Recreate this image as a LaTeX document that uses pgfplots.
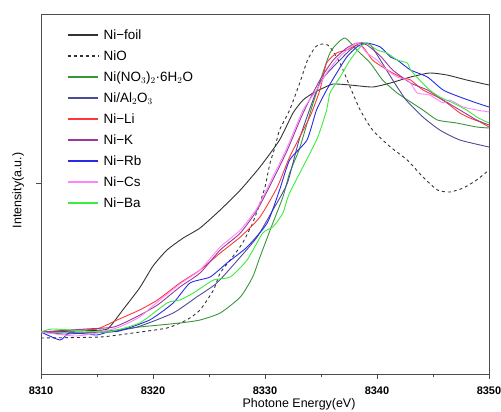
\documentclass[border=0pt]{standalone}
\usepackage{pgfplots}
\pgfplotsset{compat=1.18}
\usepackage{fontspec}
\setmainfont{Liberation Sans}
\definecolor{colFoil}{RGB}{50,50,50}
\definecolor{colNiO}{RGB}{50,50,50}
\definecolor{colNit}{RGB}{55,150,55}
\definecolor{colAl}{RGB}{75,75,150}
\definecolor{colLi}{RGB}{255,55,55}
\definecolor{colK}{RGB}{155,55,155}
\definecolor{colRb}{RGB}{40,40,230}
\definecolor{colCs}{RGB}{255,130,255}
\definecolor{colBa}{RGB}{60,235,60}
\begin{document}
\begin{tikzpicture}
\begin{axis}[
  name=ax, at={(0,0)}, anchor=south west,
  scale only axis, width=448bp, height=360bp,
  xmin=8310, xmax=8350, ymin=0, ymax=360,
  xtick={8310,8320,8330,8340,8350},
  minor xtick={8315,8325,8335,8345},
  ytick={191}, yticklabels={},
  xtick pos=bottom, ytick pos=left,
  tick align=outside,
  major tick length=5bp, minor tick length=3bp,
  axis line style={black!70, line width=0.8pt},
  every tick/.style={black!70, line width=0.8pt},
  /pgf/number format/assume math mode=true,
  /pgf/number format/set thousands separator={},
  xticklabel style={font=\fontsize{11}{13}\selectfont\bfseries, yshift=-4bp},
  xlabel={Photone Energy(eV)},
  ylabel={Intensity(a.u.)},
  xlabel style={font=\fontsize{12.5}{14}\selectfont, at={(axis description cs:0.576,-0.083)}, anchor=center},
  ylabel style={font=\fontsize{12.5}{14}\selectfont, at={(axis description cs:-0.051,0.51)}, anchor=center},
  legend cell align=left,
  legend image code/.code={\draw[#1, line width=1.5bp] (0bp,0bp) -- (30bp,0bp);},
  legend style={draw=none, fill=none, at={(axis description cs:0.058,0.961)}, anchor=north west,
    font=\fontsize{13.5}{16}\selectfont, inner sep=0pt, row sep=7bp, column sep=4bp,
    nodes={inner sep=1bp, text height=10bp, text depth=2bp}},
  every axis plot/.append style={line width=0.9pt, smooth, tension=0.35},
]
% Ni-foil
\addplot[colFoil] coordinates {
(8310,42) (8315.5,44) (8316.2,48) (8317.3,64) (8318.8,86) (8320.0,108) (8321.25,124) (8322.7,136)
(8324.2,146) (8326.0,164) (8327.8,184) (8329.55,207) (8331.3,234) (8332.5,261) (8333.4,274)
(8334.3,281) (8335.2,286) (8336.1,290) (8337.6,289) (8339.6,287) (8341.2,291) (8343.0,297)
(8344.7,301) (8346.25,299) (8348.0,294) (8350,289)};
\addlegendentry{Ni−foil}
% NiO
\addplot[colNiO, dashed] coordinates {
(8310,36) (8315.3,37) (8318.2,41) (8321.25,46) (8323.0,54) (8324.2,64) (8325.4,84) (8326.0,101)
(8327.1,117) (8328.0,131) (8328.9,151) (8329.55,171) (8330.0,187) (8330.45,211) (8330.9,227)
(8331.3,244) (8332.2,264) (8333.1,291) (8333.8,314) (8334.5,327) (8335.1,330) (8335.6,329)
(8335.8,327) (8336.7,311) (8337.6,287) (8338.5,264) (8339.6,244) (8341.2,227) (8342.7,214)
(8344.1,197) (8345.4,184) (8346.5,182) (8347.7,186) (8348.9,194) (8350,204)};
\addlegendentry{NiO}
% Ni(NO3)2 6H2O
\addplot[colNit] coordinates {
(8310,42) (8315,42) (8318.8,47) (8322.4,51) (8324.2,54) (8326,61) (8327.8,77) (8328.9,97)
(8329.55,117) (8330.7,151) (8331.6,177) (8332.2,201) (8333.1,226) (8334.3,271) (8335.8,321)
(8337.1,336) (8338.2,324) (8339.4,311) (8340.5,294) (8341.8,281) (8343.0,272) (8344.1,264)
(8345.4,254) (8347.1,251) (8348.9,247) (8350,246)};
\addlegendentry{Ni(NO$_3$)$_2$·6H$_2$O}
% Ni/Al2O3
\addplot[colAl] coordinates {
(8310,42) (8312,40) (8314,41) (8316,42) (8318.6,47) (8321.8,61) (8323.9,77) (8325.7,91)
(8327.8,117) (8329.3,137) (8330.7,164) (8332.0,191) (8333.1,236) (8334.9,291) (8336.7,314)
(8337.6,324) (8338.5,331) (8339.4,329) (8340.3,314) (8341.4,294) (8342.6,274) (8344.1,257)
(8345.6,244) (8347.4,234) (8350,227)};
\addlegendentry{Ni/Al$_2$O$_3$}
% Ni-Li
\addplot[colLi] coordinates {
(8310,42) (8313,44) (8315,45) (8316.8,54) (8318.8,64) (8320.4,74) (8322.4,91) (8324.2,104)
(8326.0,121) (8327.8,137) (8329.55,157) (8331.1,187) (8332.2,217) (8334.0,257) (8334.9,284)
(8335.5,311) (8336.4,321) (8337.3,324) (8338.2,329) (8338.75,327) (8339.6,314) (8340.5,307)
(8341.4,301) (8342.3,296) (8343.0,294) (8344.1,284) (8345.4,277) (8346.25,271) (8347.4,261)
(8348.3,256) (8349.2,252) (8350,247)};
\addlegendentry{Ni−Li}
% Ni-K
\addplot[colK] coordinates {
(8310,42) (8314,45) (8316.5,47) (8318.5,57) (8320.4,69) (8322.4,87) (8324.2,101) (8326.0,124)
(8327.8,141) (8329.3,164) (8330.7,194) (8332.0,224) (8333.4,261) (8334.9,294) (8336.1,314)
(8337.3,326) (8338.2,331) (8339.1,329) (8340.3,318) (8341.4,304) (8343.0,291) (8344.5,284)
(8345.9,274) (8347.4,264) (8348.9,254) (8350,249)};
\addlegendentry{Ni−K}
% Ni-Rb
\addplot[colRb] coordinates {
(8310,42) (8311.7,34) (8312.5,41) (8314,40) (8315,39) (8316,42) (8317,43) (8319.7,54)
(8321.8,71) (8323.3,91) (8325.1,97) (8326.6,111) (8328.4,127) (8330.2,151) (8331.3,184)
(8332.2,214) (8333.75,234) (8334.6,264) (8335.5,284) (8336.4,301) (8337.3,317) (8338.2,327)
(8339.1,331) (8340.3,327) (8341.2,317) (8341.8,314) (8343.0,304) (8344.5,297) (8345.9,284)
(8347.4,277) (8348.9,271) (8350,267)};
\addlegendentry{Ni−Rb}
% Ni-Cs
\addplot[colCs] coordinates {
(8310,42) (8313,38) (8315,41) (8317,47) (8318.8,57) (8320.4,72) (8322.4,90) (8324.2,104)
(8326.0,127) (8327.8,144) (8329.3,166) (8330.7,197) (8332.0,227) (8333.4,264) (8334.6,284)
(8335.5,301) (8336.4,314) (8337.5,326) (8338.3,331) (8339.1,321) (8340.0,314) (8340.9,304)
(8341.8,297) (8342.7,294) (8343.0,291) (8343.6,281) (8344.7,279) (8345.9,271) (8346.5,274)
(8347.7,267) (8348.9,264) (8350,262)};
\addlegendentry{Ni−Cs}
% Ni-Ba
\addplot[colBa] coordinates {
(8310,42) (8311,45) (8314,43) (8316,42) (8318.8,51) (8321.25,71) (8322.4,74) (8323.6,81)
(8325.4,94) (8326.9,97) (8328.4,114) (8329.8,141) (8330.7,147) (8331.6,161) (8332.2,181)
(8334.6,234) (8335.5,264) (8335.8,281) (8336.7,297) (8337.6,314) (8338.5,327) (8339.1,331)
(8340.0,324) (8340.9,321) (8341.8,314) (8342.7,311) (8343.0,304) (8343.8,294) (8344.7,284)
(8345.6,277) (8346.8,271) (8348.0,264) (8348.9,257) (8349.8,252) (8350,251)};
\addlegendentry{Ni−Ba}
\end{axis}
\pgfresetboundingbox
\path (-41bp,-38bp) rectangle (460bp,374bp);
\end{tikzpicture}
\end{document}
